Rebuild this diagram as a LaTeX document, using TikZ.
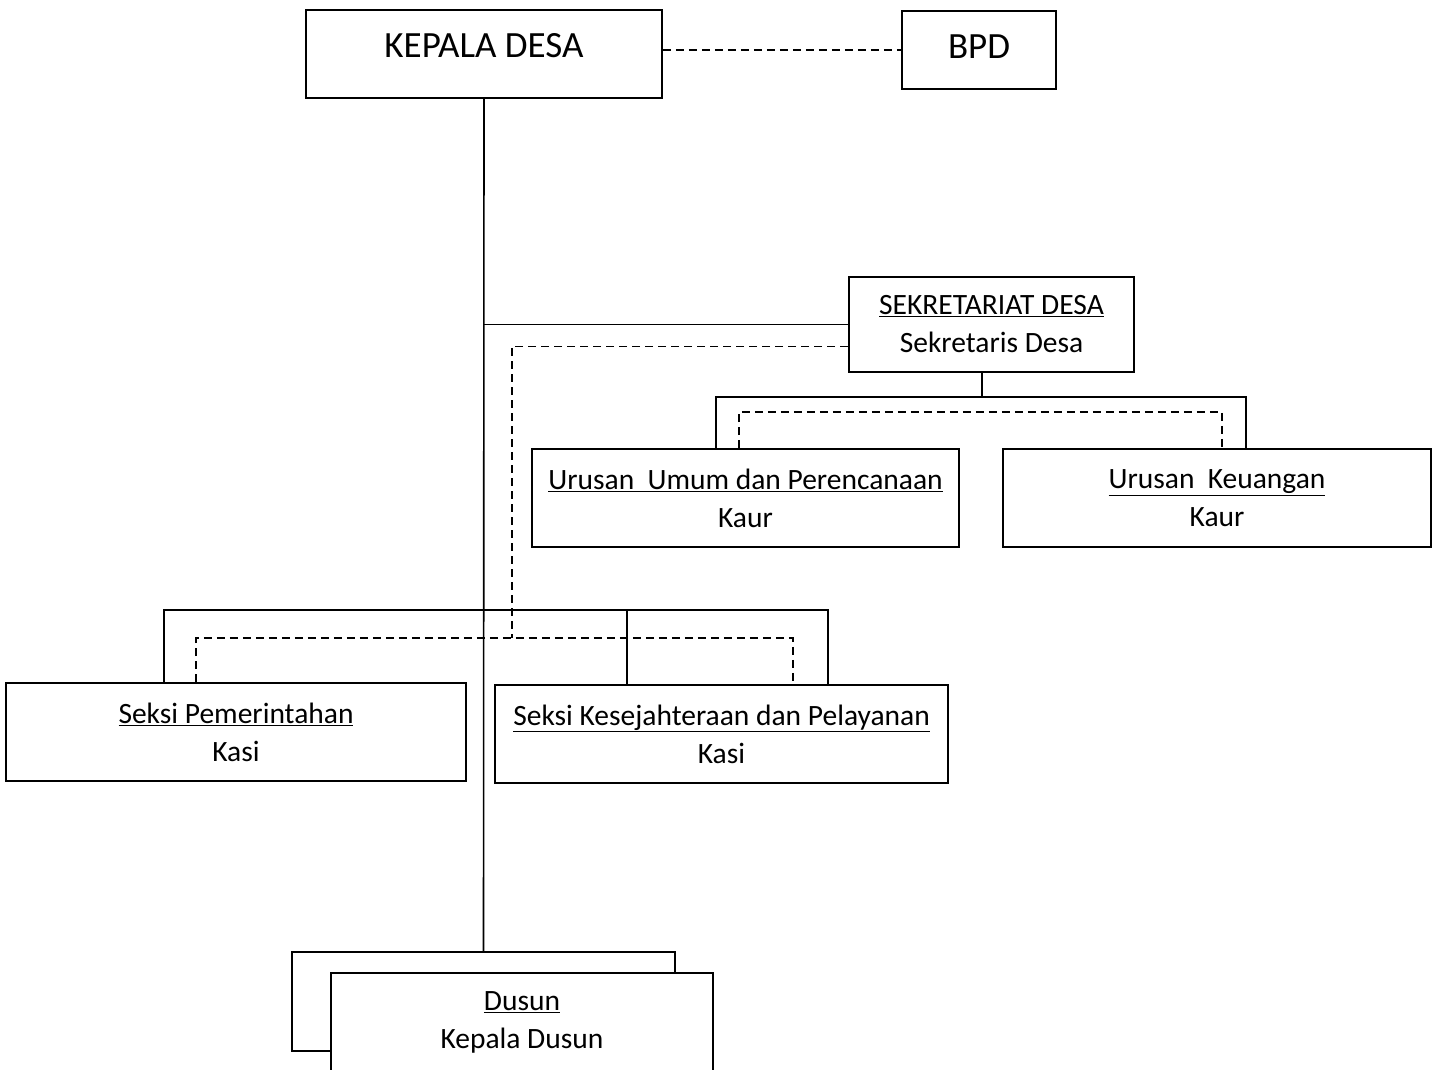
\documentclass[tikz,border=0pt]{standalone}
\usepackage{fontspec}
\setmainfont{Carlito}
\begin{document}
\begin{tikzpicture}[x=1pt,y=-1pt,line width=1.6pt]
  \tikzstyle{box}=[draw,rectangle,inner sep=0pt,align=center,font=\fontsize{29.5}{38}\selectfont]
  \tikzstyle{head}=[box,font=\fontsize{37}{40}\selectfont]
  \tikzstyle{dash line}=[dash pattern=on 8pt off 5pt]
  \useasboundingbox (0,0) rectangle (1437,1070);

  \node[head,minimum width=356,minimum height=88,text depth=18pt] (KD) at (484,54) {KEPALA DESA};
  \node[head,minimum width=154,minimum height=78,text depth=7pt] (BPD) at (979,50) {BPD};

  \node[box,minimum width=285,minimum height=95] (SD) at (991.5,324.5)
    {\underline{SEKRETARIAT DESA}\\Sekretaris Desa};
  \node[box,minimum width=427,minimum height=98] (UU) at (745.5,498)
    {\underline{Urusan\ \ Umum dan Perencanaan}\\Kaur};
  \node[box,minimum width=428,minimum height=98] (UK) at (1217,498)
    {\underline{Urusan\ \ Keuangan}\\Kaur};
  \node[box,minimum width=460,minimum height=98] (SP) at (236,732)
    {\underline{Seksi Pemerintahan}\\Kasi};
  \node[box,minimum width=453,minimum height=98] (SK) at (721.5,734)
    {\underline{Seksi Kesejahteraan dan Pelayanan}\\Kasi};
  \node[box,minimum width=383,minimum height=99] (DSb) at (483.5,1001.5) {};
  \node[box,fill=white,minimum width=382,minimum height=98] (DS) at (522,1022)
    {\underline{Dusun}\\Kepala Dusun};

  % bus points
  \coordinate (uL) at (716,397);
  \coordinate (uM) at (982,397);
  \coordinate (uR) at (1246,397);
  \coordinate (vL) at (739,412);
  \coordinate (vR) at (1222,412);
  \coordinate (sL) at (164,610);
  \coordinate (sM) at (627,610);
  \coordinate (sR) at (828,610);
  \coordinate (dL) at (196,638);
  \coordinate (dS) at (512,638);
  \coordinate (dR) at (793,638);

  \draw[dash line] (KD.east |- BPD.west) -- (BPD.west);
  \draw (KD.south) -- (DSb.north);
  \draw (SD.west) -- (SD.west -| KD.south);
  \draw[dash line] ([yshift=-22pt]SD.west) -| (dS);

  \draw (SD.south -| uM) -- (uM);
  \draw (UU.north -| uL) -- (uL) -- (uR) -- (UK.north -| uR);
  \draw[dash line] (UU.north -| vL) -- (vL) -- (vR) -- (UK.north -| vR);

  \draw (SP.north -| sL) -- (sL) -- (sR) -- (SK.north -| sR);
  \draw (sM) -- (SK.north -| sM);
  \draw[dash line] (SP.north -| dL) -- (dL) -- (dR) -- (SK.north -| dR);
\end{tikzpicture}
\end{document}
